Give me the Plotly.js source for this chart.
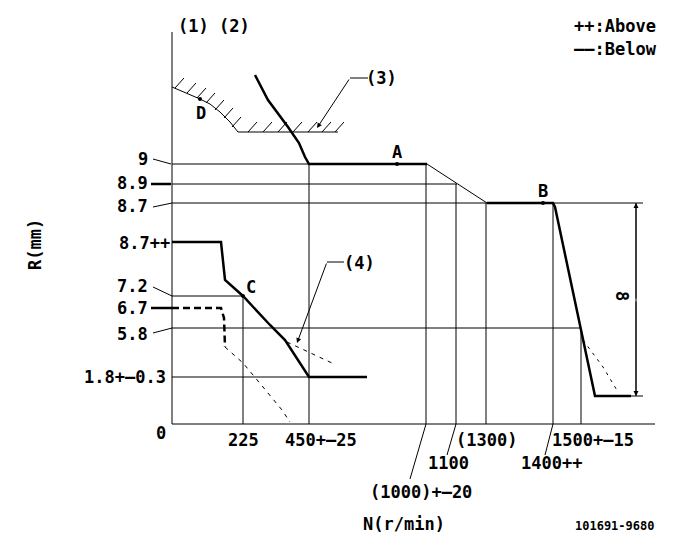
<!DOCTYPE html>
<html><head><meta charset="utf-8">
<script src="https://cdn.plot.ly/plotly-3.0.1.min.js"></script>
<style>html,body{margin:0;padding:0;background:#fff}#chart{width:681px;height:549px}</style>
</head><body><div id="chart"></div>
<script>
// ---- Schematic governor diagram, drawing units (y grows downward) ----
// Frame (R axis and N axis)
const axisSegs = [[172,32,172,424],[172,424,655,424]];
// Horizontal reference lines for R levels 9, 8.9, 8.7, 7.2, 5.8, 1.8, dimension foot
const levelSegs = [[172,164,309,164],[172,184,457,184],[172,203,643,203],[172,296,243,296],
                   [172,328,581,328],[172,377,309,377],[631,396,643,396]];
// Vertical reference lines for N = 225, 450, 1000, 1100, 1300, 1400, 1500
const speedSegs = [[243,296,243,424],[309,164,309,424],[426,164,426,424],[456,184,456,424],
                   [486,203,486,424],[553,203,553,424],[581,328,581,424]];
// Thin leader lines to labels
const leaderSegs = [[426,424,410,479],[456,424,447,455],[553,424,545,455],
                    [153,159,171,164],[153,207,172,203],[153,287,172,296],[153,333,172,328],
                    [350,78,368,78],[327,262,344,262],[636,203,636,396]];
const leaderThickSegs = [[151,184,171,184],[151,308,172,308]];
// Governor curve (full load)
const fullX = [255,268,288,299,305,309,427];
const fullY = [75,100,127,143,157,164,164];
const slopeX = [427,487];
const slopeY = [164,203];
const highX = [487,553,555,595,631];
const highY = [203,203,207,396,396];
// Start / idle curve
const idleX = [172,221,225,243,270,285,309,367];
const idleY = [242,242,280,296,325,340,377,377];
const idleDashX = [172,221,224,225];
const idleDashY = [308,308,318,347];
const dot1X = [225,243,263,282,290];
const dot1Y = [347,363,387,410,422];
const dot2X = [287,332];
const dot2Y = [342,363];
const dot3X = [583,603,618];
const dot3Y = [340,367,392];
// Hatched limit (3)
const limX = [172,187,200,210,220,230,238,338];
const limY = [87,93,99,104,112,122,132,132];
const hatchX = [175,187,197,206,215,224,232,248,263,278,293,308,322,335];
const hatchY = [88,93,98,103,110,118,127,132,132,132,132,132,132,132];
// Measuring points
const ptName = ['A','B','C','D'];
const ptX = [397,543,243,200];
const ptY = [164,203,296,99];
const ptLabelX = [397,543,251,201];
const ptLabelY = [152,191,287,113];
// Text labels
const rTick = ['9','8.9','8.7','8.7++','7.2','6.7','5.8','1.8+–0.3'];
const rTickX = [150,150,150,172,150,150,150,168];
const rTickY = [159,183,206,243,286,308,334,377];
const nTick = ['0','225','450+–25','(1300)','1500+–15','1100','1400++','(1000)+–20'];
const nTickX = [161,243,321,486,593,448,551,421];
const nTickY = [433,440,440,440,440,463,463,492];
const noteText = ['(1) (2)','(3)','(4)','++:Above','——:Below'];
const noteX = [214,381,359,615,615];
const noteY = [26,78,263,26,49];

function flat(segs){const x=[],y=[];segs.forEach(s=>{x.push(s[0],s[2],null);y.push(s[1],s[3],null);});return {x,y};}
function hatch(){const x=[],y=[];hatchX.forEach((v,i)=>{x.push(v,v+9,null);y.push(hatchY[i],hatchY[i]-10,null);});return {x,y};}
const K='#000';
const thin = flat(axisSegs.concat(levelSegs,speedSegs,leaderSegs));
const thick = flat(leaderThickSegs);
const h = hatch();
const traces = [
 {x:thin.x,y:thin.y,mode:'lines',line:{color:K,width:1}},
 {x:thick.x,y:thick.y,mode:'lines',line:{color:K,width:2.5}},
 {x:limX,y:limY,mode:'lines',line:{color:K,width:1}},
 {x:h.x,y:h.y,mode:'lines',line:{color:K,width:1}},
 {x:slopeX,y:slopeY,mode:'lines',line:{color:K,width:1}},
 {x:fullX,y:fullY,mode:'lines',line:{color:K,width:2.5}},
 {x:highX,y:highY,mode:'lines',line:{color:K,width:2.5}},
 {x:idleX,y:idleY,mode:'lines',line:{color:K,width:2.5}},
 {x:idleDashX,y:idleDashY,mode:'lines',line:{color:K,width:2.5,dash:'7px,4px'}},
 {x:dot1X,y:dot1Y,mode:'lines',line:{color:K,width:1,dash:'4px,5px'}},
 {x:dot2X,y:dot2Y,mode:'lines',line:{color:K,width:1,dash:'4px,5px'}},
 {x:dot3X,y:dot3Y,mode:'lines',line:{color:K,width:1,dash:'3px,5px'}},
 {x:ptX,y:ptY,mode:'markers',marker:{color:K,size:4}}
];
const F={family:'DejaVu Sans Mono, monospace',size:17,color:K,weight:'bold'};
const ann=[];
function txt(t,x,y,xa,extra){ann.push(Object.assign({text:t,x:x,y:y,xref:'x',yref:'y',showarrow:false,xanchor:xa||'center',yanchor:'middle',font:F},extra||{}));}
rTick.forEach((t,i)=>txt(t,rTickX[i],rTickY[i],'right'));
nTick.forEach((t,i)=>txt(t,nTickX[i],nTickY[i]));
noteText.forEach((t,i)=>txt(t,noteX[i],noteY[i]));
ptName.forEach((t,i)=>txt(t,ptLabelX[i],ptLabelY[i]));
txt('N(r/min)',404,524);
txt('R(mm)',35,245,'center',{textangle:-90});
txt('8',622,296,'center',{textangle:90});
txt('101691-9680',614,526,'center',{font:Object.assign({},F,{size:12})});
function arrow(x,y,ax,ay){ann.push({x:x,y:y,ax:ax,ay:ay,xref:'x',yref:'y',axref:'x',ayref:'y',text:'',showarrow:true,arrowhead:2,arrowsize:1,arrowwidth:1,arrowcolor:K});}
arrow(317,128,350,78);
arrow(297,343,327,262);
arrow(636,203,636,300);
arrow(636,396,636,300);
const layout={width:681,height:549,margin:{l:0,r:0,t:0,b:0},paper_bgcolor:'#fff',plot_bgcolor:'#fff',showlegend:false,
 xaxis:{range:[0,681],visible:false,fixedrange:true},yaxis:{range:[549,0],visible:false,fixedrange:true},annotations:ann};
Plotly.newPlot('chart',traces,layout,{staticPlot:true,displayModeBar:false});
</script></body></html>
